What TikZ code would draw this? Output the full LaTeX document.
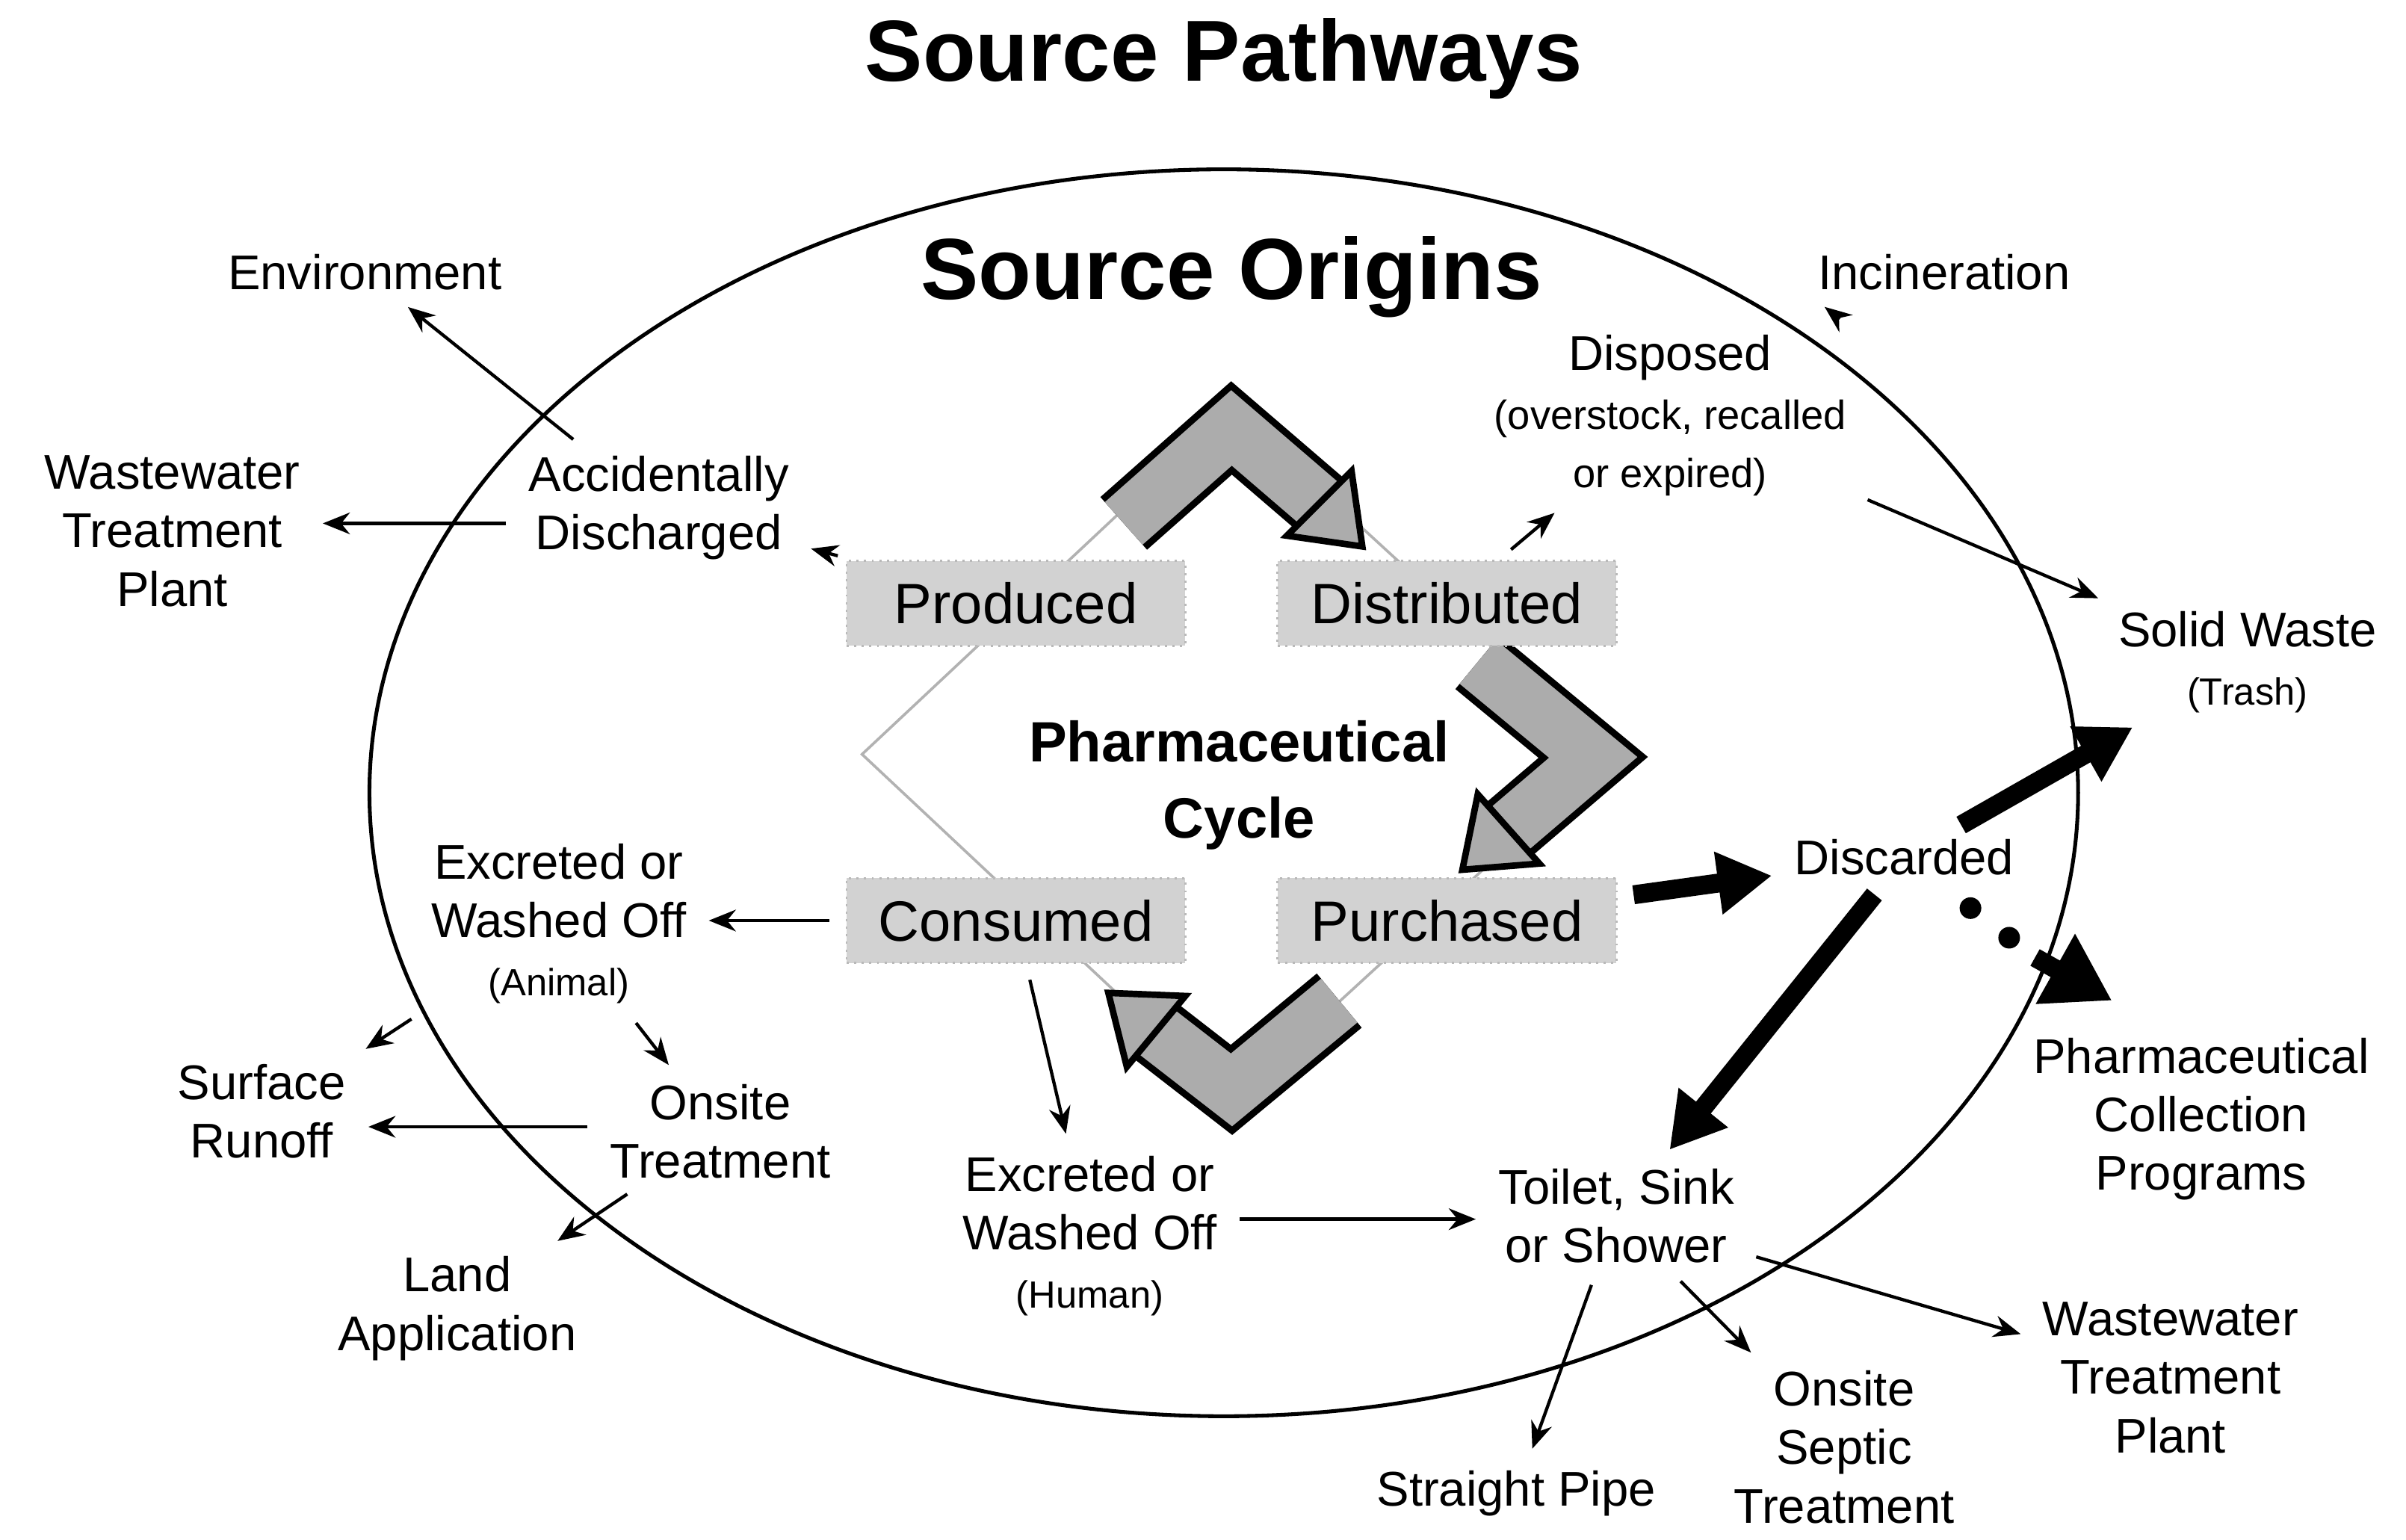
\documentclass[tikz,border=0pt]{standalone}
\usepackage{fontspec}
\setmainfont{Liberation Sans}
\usetikzlibrary{arrows.meta}
\begin{document}
\begin{tikzpicture}[x=0.01cm,y=-0.01cm,
    every node/.style={font=\fontsize{9}{10.8}\selectfont, align=center, inner sep=1pt},
    stage/.style={fill=gray!35, draw=gray!55, densely dotted, minimum width=2.2cm, minimum height=0.55cm, font=\fontsize{10.5}{13}\selectfont},
    thin/.style={-{Stealth[length=5pt,width=4pt]}, line width=0.6pt, shorten <=3pt, shorten >=3pt},
    thick/.style={-{Triangle[length=10pt,width=11pt]}, line width=3.5pt, shorten <=3pt, shorten >=3pt},
    shaftout/.style={line width=13pt, draw=black, line join=miter},
    shaftin/.style={line width=10.5pt, draw=gray!65, line join=miter},
    head/.style={fill=gray!65, draw=black, line width=1.2pt, line join=miter}
  ]
  \useasboundingbox (0,0) rectangle (1563,1000);

  % titulo y elipse
  \node[font=\bfseries\fontsize{16}{18}\selectfont] (title) at (795,38) {Source Pathways};
  \draw[line width=0.7pt] (795,515) ellipse (555 and 405);
  \node[font=\bfseries\fontsize{16}{18}\selectfont] (origins) at (800,180) {Source Origins};

  % ciclo
  \draw[gray!60, line width=0.5pt] (560,490) -- (800,265) -- (1045,490) -- (800,715) -- cycle;
  \draw[shaftout] (730,340) -- (800,278) -- (857,327);
  \draw[shaftin] (730,340) -- (800,278) -- (857,327);
  \draw[head] (885,355) -- (878,306) -- (836,348) -- cycle;
  \draw[shaftout] (960,430) -- (1035,492) -- (980,539);
  \draw[shaftin] (960,430) -- (1035,492) -- (980,539);
  \draw[head] (950,565) -- (1000,561) -- (960,516) -- cycle;
  \draw[shaftout] (870,650) -- (800,708) -- (751,670);
  \draw[shaftin] (870,650) -- (800,708) -- (751,670);
  \draw[head] (720,645) -- (770,647) -- (732,693) -- cycle;

  \node[stage] (prod) at (660,392) {Produced};
  \node[stage] (dist) at (940,392) {Distributed};
  \node[stage] (cons) at (660,598) {Consumed};
  \node[stage] (purch) at (940,598) {Purchased};
  \node[font=\bfseries\fontsize{10.5}{14}\selectfont] (cyc) at (805,510) {Pharmaceutical\\Cycle};

  % textos
  \node (env) at (237,177) {Environment};
  \node (wwtpA) at (112,345) {Wastewater\\Treatment\\Plant};
  \node (acc) at (428,330) {Accidentally\\Discharged};
  \node (disp) at (1085,270) {Disposed\\{\fontsize{7.5}{9.5}\selectfont(overstock, recalled}\\{\fontsize{7.5}{9.5}\selectfont or expired)}};
  \node (inc) at (1263,177) {Incineration};
  \node (solid) at (1460,430) {Solid Waste\\{\fontsize{7}{9}\selectfont(Trash)}};
  \node (disc) at (1237,557) {Discarded};
  \node (coll) at (1430,727) {Pharmaceutical\\Collection\\Programs};
  \node (exA) at (363,600) {Excreted or\\Washed Off\\{\fontsize{7}{9}\selectfont(Animal)}};
  \node (surf) at (170,722) {Surface\\Runoff};
  \node (onsite) at (468,735) {Onsite\\Treatment};
  \node (land) at (297,850) {Land\\Application};
  \node (exH) at (708,803) {Excreted or\\Washed Off\\{\fontsize{7}{9}\selectfont(Human)}};
  \node (toilet) at (1050,790) {Toilet, Sink\\or Shower};
  \node (pipe) at (985,970) {Straight Pipe};
  \node (septic) at (1198,940) {Onsite\\Septic\\Treatment};
  \node (wwtpB) at (1410,895) {Wastewater\\Treatment\\Plant};
  \coordinate (dotend) at (1322,622);
  \coordinate (collin) at (1372,650);

  % flechas
  \draw[thin] (acc) -- (env);
  \draw[thin] (acc.west |- 0,340) -- (wwtpA.east |- 0,340);
  \draw[thin] (prod) -- (acc);
  \draw[thin] (dist) -- (disp);
  \draw[thin] (disp.north east) -- (inc.south west);
  \draw[thin] (disp) -- (solid);
  \draw[thick] (purch) -- (disc);
  \draw[thick] (disc) -- (solid);
  \draw[thick] (disc) -- (toilet);
  \draw[line width=4pt, dash pattern=on 0pt off 9pt, line cap=round, shorten <=8pt] (disc) -- (dotend);
  \draw[thick, -{Triangle[length=12pt,width=14pt]}, shorten <=0pt, shorten >=0pt] (dotend) -- (collin);
  \draw[thin] (cons) -- (exA.east |- cons);
  \draw[thin] (exA.south west) -- (surf.north east);
  \draw[thin] (exA) -- (onsite);
  \draw[thin] (onsite.west |- 0,732) -- (surf.east |- 0,732);
  \draw[thin] (onsite) -- (land);
  \draw[thin] (cons) -- (exH);
  \draw[thin] (exH.east |- 0,792) -- (toilet.west |- 0,792);
  \draw[thin] (toilet) -- (pipe);
  \draw[thin] (toilet) -- (septic);
  \draw[thin] (toilet) -- (wwtpB);
\end{tikzpicture}
\end{document}
